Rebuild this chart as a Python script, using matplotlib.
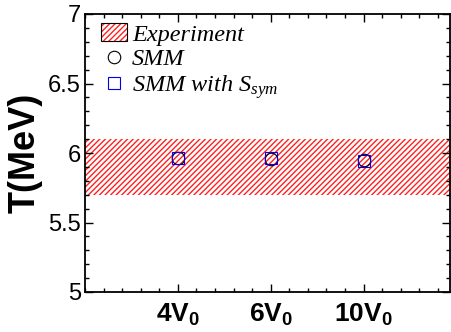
import matplotlib
matplotlib.use("Agg")
import matplotlib.pyplot as plt
from matplotlib.patches import Patch
from matplotlib.lines import Line2D
from matplotlib.legend_handler import HandlerTuple
from matplotlib.ticker import MultipleLocator, FuncFormatter

plt.rcParams['mathtext.fontset'] = 'custom'
plt.rcParams['mathtext.it'] = 'Liberation Serif:italic'
plt.rcParams['mathtext.rm'] = 'Liberation Serif'
plt.rcParams['mathtext.bf'] = 'Liberation Sans:bold'
plt.rcParams['hatch.linewidth'] = 1.0

categories = [r'$\mathbf{4V_0}$', r'$\mathbf{6V_0}$', r'$\mathbf{10V_0}$']
cat_pos = [1, 2, 3]
smm = [5.962, 5.960, 5.947]
smm_sym = [5.964, 5.962, 5.946]
exp_low, exp_high = 5.7, 6.1

fig = plt.figure(figsize=(4.52, 3.32), dpi=100)
ax = fig.add_axes([85/452, 1-292/332, (450-85)/452, (292-14)/332])

ax.fill_between([0, 3.93], exp_low, exp_high, facecolor='none',
                edgecolor='#ff2020', hatch='//////', linewidth=0)
ax.plot(cat_pos, smm, 'o', mfc='none', mec='black', ms=9, mew=0.8, ls='none')
ax.plot(cat_pos, smm_sym, 's', mfc='none', mec='#0000ee', ms=9, mew=0.8, ls='none')

ax.set_xlim(0, 3.93)
ax.set_ylim(5, 7)
ax.set_xticks(cat_pos)
ax.set_xticklabels(categories, fontsize=19)
ax.xaxis.set_minor_locator(MultipleLocator(0.2))
ax.yaxis.set_major_locator(MultipleLocator(0.5))
ax.yaxis.set_minor_locator(MultipleLocator(0.1))
ax.yaxis.set_major_formatter(FuncFormatter(lambda v, p: f'{v:g}'))
ax.tick_params(axis='both', which='both', direction='in', top=True, right=True)
ax.tick_params(axis='both', which='major', length=5.5, width=1)
ax.tick_params(axis='both', which='minor', length=3, width=1)
ax.tick_params(axis='y', which='major', labelsize=17, pad=3)
ax.tick_params(axis='x', which='major', pad=7)
for lab in ax.get_yticklabels():
    lab.set_fontfamily('Liberation Sans')
for s in ax.spines.values():
    s.set_linewidth(1.3)

ax.set_ylabel('T(MeV)', fontsize=26, fontweight='bold', family='Liberation Sans', labelpad=4)

h_patch = Patch(facecolor='none', edgecolor='#ff2020', hatch='//////', linewidth=0)
h_border = Patch(facecolor='none', edgecolor='black', linewidth=0.8)
h_c = Line2D([], [], marker='o', mfc='none', mec='black', ms=9, mew=0.8, ls='none')
h_s = Line2D([], [], marker='s', mfc='none', mec='#0000ee', ms=9, mew=0.8, ls='none')
leg = ax.legend([(h_patch, h_border), h_c, h_s],
                ['Experiment', 'SMM', r'SMM with $S_{sym}$'],
                handler_map={tuple: HandlerTuple(ndivide=1)},
                loc='upper left', bbox_to_anchor=(-0.004, 1.028), frameon=False,
                prop={'family': 'Liberation Serif', 'style': 'italic', 'size': 17.5},
                handlelength=1.1, handleheight=0.75, handletextpad=0.2,
                labelspacing=0.1, borderpad=0.2)

fig.savefig('out.png', dpi=100)
